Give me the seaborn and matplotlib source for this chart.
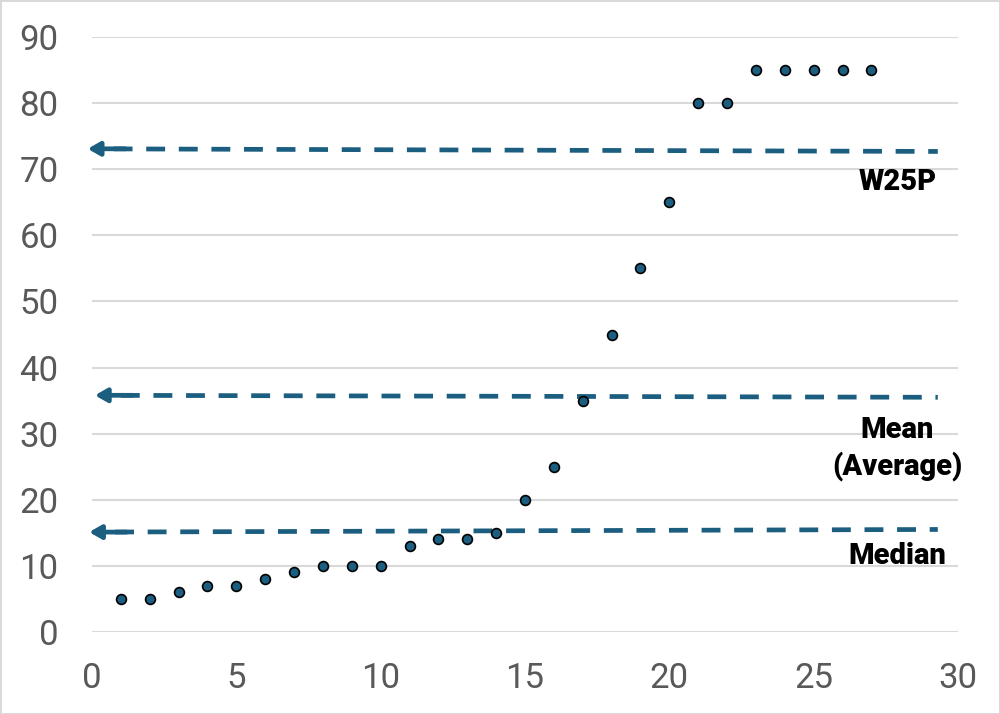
import numpy as np
import pandas as pd
import seaborn as sns
import matplotlib.pyplot as plt

# data
x_vals = list(range(1, 28))
y_vals = [5, 5, 6, 7, 7, 8, 9, 10, 10, 10, 13, 14, 14, 15, 20, 25, 35,
          45, 55, 65, 80, 80, 85, 85, 85, 85, 85]

# reference lines: label, level at left, level at right, x of arrow tip
ref_labels = ['W25P', 'Mean\n(Average)', 'Median']
ref_left = [73.1, 35.8, 15.1]
ref_right = [72.7, 35.5, 15.5]
ref_start = [-0.15, 0.1, -0.1]
ref_end = [29.3, 29.3, 29.3]
label_x = [27.9, 27.9, 27.9]
label_y = [68.1, 27.7, 11.5]

df = pd.DataFrame({'x': x_vals, 'y': y_vals})

sns.set_style('white')
blue = '#1b5e80'

fig = plt.figure(figsize=(10, 7.14), dpi=100, edgecolor='#d9d9d9', linewidth=2)
ax = fig.add_axes([0.092, 0.115, 0.866, 0.833])

ax.set_xlim(0, 30)
ax.set_ylim(0, 90)
ax.set_xticks(range(0, 31, 5))
ax.set_yticks(range(0, 91, 10))
ax.grid(axis='y', color='#d9d9d9', linewidth=1.5)
for s in ax.spines.values():
    s.set_visible(False)
ax.tick_params(axis='both', length=0, labelsize=25, labelcolor='#595959')
ax.tick_params(axis='y', pad=24)
ax.tick_params(axis='x', pad=22)
for t in ax.get_xticklabels() + ax.get_yticklabels():
    t.set_fontfamily('Roboto')
ax.set_axisbelow(True)

# dashed reference lines with arrow heads
for lab, y0, y1, x0, x1, lx, ly in zip(ref_labels, ref_left, ref_right, ref_start,
                                        ref_end, label_x, label_y):
    ax.plot([x0 + 0.9, x1], [y0 + (y1 - y0) * 0.03, y1], color=blue, lw=3.4,
            linestyle=(0, (4.0, 2.9)), clip_on=False, zorder=3)
    ax.annotate('', xy=(x0, y0), xytext=(x0 + 1.3, y0),
                arrowprops=dict(arrowstyle='-|>,head_length=0.7,head_width=0.4',
                                color=blue, lw=3.4, shrinkA=0, shrinkB=0),
                annotation_clip=False, zorder=3)
    ax.text(lx, ly, lab, ha='center', va='center', fontsize=21,
            fontweight='heavy', color='black', linespacing=1.3,
            fontfamily='Roboto')

sns.scatterplot(data=df, x='x', y='y', ax=ax, color=blue, edgecolor='black',
                linewidth=1.2, s=50, zorder=4, clip_on=False)
ax.set_xlabel('')
ax.set_ylabel('')

fig.savefig('out.png', dpi=100, edgecolor=fig.get_edgecolor())
